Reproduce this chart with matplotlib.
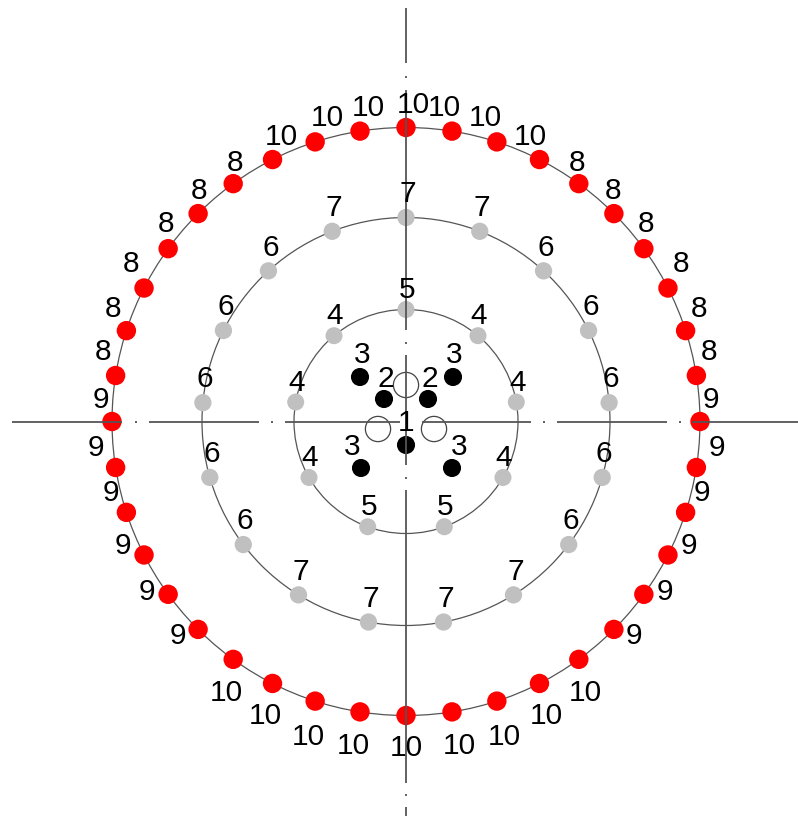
import numpy as np
import matplotlib
matplotlib.use("Agg")
import matplotlib.pyplot as plt
from matplotlib.patches import Circle

plt.rcParams['font.family'] = ['Liberation Sans', 'DejaVu Sans']

# ---------------- data ----------------
ring_radii = [112, 204, 294]            # inner, middle, outer ring

outer_angles = [0, 9, 18, 27, 36, 45, 54, 63, 72, 81, 90, 99, 108, 117, 126, 135,
                144, 153, 162, 171, 180, 189, 198, 207, 216, 225, 234, 243, 252,
                261, 270, 279, 288, 297, 306, 315, 324, 333, 342, 351]
outer_labels = ['9', '8', '8', '8', '8', '8', '8',
                '10', '10', '10', '10', '10', '10', '10',
                '8', '8', '8', '8', '8', '8',
                '9', '9', '9', '9', '9', '9',
                '10', '10', '10', '10', '10', '10', '10', '10', '10',
                '9', '9', '9', '9', '9']

middle_angles = [90, 111.2, 132.4, 153.5, 174.7, 195.9, 217.1, 238.2, 259.4,
                 280.6, 301.8, 322.9, 344.1, 5.3, 26.5, 47.6, 68.8]
middle_labels = ['7', '7', '6', '6', '6', '6', '6', '7', '7',
                 '7', '7', '6', '6', '6', '6', '6', '7']

inner_angles = [90, 130, 170, 210, 250, 290, 330, 10, 50]
inner_labels = ['5', '4', '4', '4', '5', '5', '4', '4', '4']

core_x = [-46, -22, 22, 47, 0, -45, 46]
core_y = [44.5, 22.5, 22.5, 44.5, -23.5, -46.5, -46.5]
core_labels = ['3', '2', '2', '3', '1', '3', '3']

open_x = [0, -28, 28]
open_y = [36.5, -7.5, -7.5]

# ---------------- layout ----------------
CX, CY = 406, 421.5          # centre in pixel coords of the 798x816 canvas
W, H = 798, 816
FS = 21.5
CAP = 0.716 * FS * 100 / 72   # digit height in px

# label offsets (px, image orientation: +dy = down) for outer ring, left half
outer_off_left = {90: (7, -25), 99: (8, -26), 108: (12, -27), 117: (9, -25),
                  126: (2, -23), 135: (1, -25), 144: (-2, -27), 153: (-13, -27),
                  162: (-13, -24), 171: (-13, -26), 180: (-11, -24),
                  189: (-20, -22), 198: (-16, -22), 207: (-21, -12),
                  216: (-21, -5), 225: (-20, 4), 234: (-7, 31), 243: (-7, 30),
                  252: (-7, 33), 261: (-7, 31), 270: (0, 30)}


def outer_offset(a):
    a = a % 360
    if a in outer_off_left:
        return outer_off_left[a]
    m = (180 - a) % 360
    dx, dy = outer_off_left[m]
    return (-dx, dy)


middle_off = (2, -26)
inner_off = (1, -22)
core_off = [(2, -25), (2, -23), (2, -23), (1, -25), (0, -25), (-9, -24), (7, -24)]

fig = plt.figure(figsize=(W / 100, H / 100), dpi=100)
ax = fig.add_axes([0, 0, 1, 1])
ax.set_xlim(-CX, W - CX)
ax.set_ylim(CY - H, CY)
ax.set_aspect('equal')
ax.axis('off')

line_col = '#555555'
for r in ring_radii:
    ax.add_patch(Circle((0, 0), r, fill=False, ec=line_col, lw=0.9, zorder=1))


def polar(r, angs):
    t = np.deg2rad(np.asarray(angs, dtype=float))
    return r * np.cos(t), r * np.sin(t)


def label(x, y, off, s):
    dx, dy = off
    ax.text(x + dx, y - dy - CAP / 2, s, ha='center', va='baseline',
            fontsize=FS, color='black', zorder=5)


# outer ring
ox, oy = polar(ring_radii[2], outer_angles)
ax.scatter(ox, oy, s=195, c='#ff0000', edgecolors='none', zorder=2)
for x, y, a, s in zip(ox, oy, outer_angles, outer_labels):
    label(x, y, outer_offset(a), s)

# middle ring
mx, my = polar(ring_radii[1], middle_angles)
ax.scatter(mx, my, s=155, c='#c0c0c0', edgecolors='none', zorder=2)
for x, y, s in zip(mx, my, middle_labels):
    label(x, y, middle_off, s)

# inner ring
ix, iy = polar(ring_radii[0], inner_angles)
ax.scatter(ix, iy, s=150, c='#c0c0c0', edgecolors='none', zorder=2)
for x, y, s in zip(ix, iy, inner_labels):
    label(x, y, inner_off, s)

# core points
ax.scatter(core_x, core_y, s=170, c='black', edgecolors='none', zorder=2)
for x, y, off, s in zip(core_x, core_y, core_off, core_labels):
    label(x, y, off, s)
ax.scatter(open_x, open_y, s=330, facecolors='none', edgecolors='#444444',
           linewidths=0.9, zorder=2)

# dash-dot crosshair (pixel spans on the canvas)
h_spans = [(12, 122), (135, 137), (149, 259), (271, 273), (285, 400),
           (422, 531), (543, 545), (557, 667), (679, 681), (692, 798)]
v_spans = [(8, 63), (76, 78), (90, 330), (342, 344), (355, 465), (477, 479),
           (490, 783), (794, 796), (807, 816)]
for a, b in h_spans:
    ax.plot([a - CX, b - CX], [0, 0], color=line_col, lw=1.3, zorder=3,
            solid_capstyle='butt')
for a, b in v_spans:
    ax.plot([0, 0], [CY - a, CY - b], color=line_col, lw=1.3, zorder=3,
            solid_capstyle='butt')

fig.savefig('out.png', dpi=100)
